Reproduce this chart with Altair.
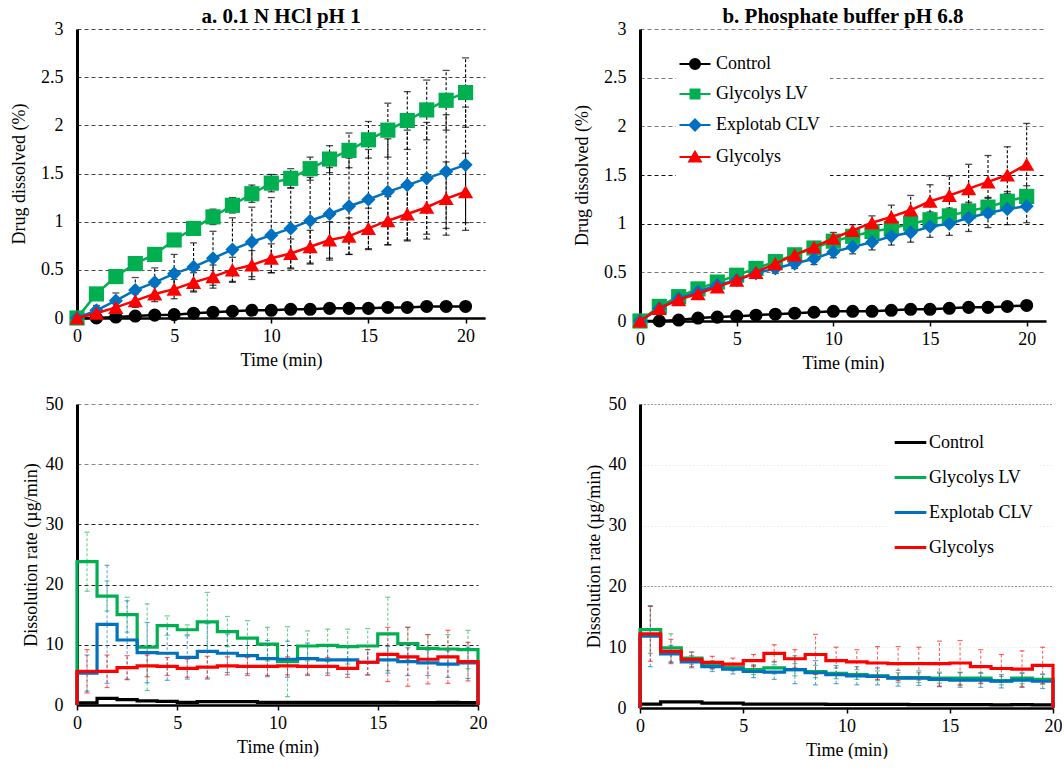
import altair as alt
import pandas as pd

FONT = "Liberation Serif"

series = ["Control", "Glycolys LV", "Explotab CLV", "Glycolys"]
colors = ["#000000", "#00B050", "#0070C0", "#FF0000"]
shapes = ["circle", "square", "diamond", "triangle-up"]
marker_sizes = [170, 230, 200, 230]

time_min = list(range(21))
interval_start = list(range(20))

# ---- a. 0.1 N HCl pH 1 : cumulative drug dissolved (%) ----
a_control = [0, 0, 0.01, 0.02, 0.03, 0.035, 0.05, 0.06, 0.07, 0.08, 0.08, 0.09, 0.09, 0.10, 0.10, 0.10, 0.11, 0.11, 0.12, 0.12, 0.12]
a_lv = [0, 0.25, 0.43, 0.565, 0.66, 0.81, 0.93, 1.05, 1.17, 1.29, 1.40, 1.45, 1.55, 1.65, 1.74, 1.85, 1.95, 2.05, 2.16, 2.26, 2.34]
a_clv = [0, 0.08, 0.18, 0.29, 0.37, 0.46, 0.53, 0.62, 0.71, 0.79, 0.86, 0.93, 1.01, 1.08, 1.16, 1.23, 1.31, 1.38, 1.45, 1.52, 1.59]
a_gly = [0, 0.05, 0.11, 0.18, 0.25, 0.30, 0.37, 0.43, 0.50, 0.55, 0.62, 0.67, 0.74, 0.81, 0.85, 0.93, 1.01, 1.08, 1.15, 1.24, 1.31]
a_lv_sd = [0, 0.02, 0.03, 0.05, 0.05, 0.06, 0.07, 0.08, 0.08, 0.09, 0.09, 0.10, 0.12, 0.14, 0.18, 0.19, 0.28, 0.30, 0.31, 0.31, 0.36]
a_clv_sd = [0, 0.05, 0.08, 0.13, 0.15, 0.20, 0.25, 0.28, 0.33, 0.36, 0.39, 0.42, 0.45, 0.48, 0.50, 0.52, 0.55, 0.57, 0.58, 0.59, 0.60]
a_gly_sd = [0, 0.03, 0.05, 0.07, 0.08, 0.10, 0.10, 0.12, 0.13, 0.15, 0.15, 0.15, 0.17, 0.19, 0.19, 0.21, 0.25, 0.28, 0.33, 0.38, 0.40]

# ---- b. Phosphate buffer pH 6.8 ----
b_control = [0, 0, 0.01, 0.03, 0.04, 0.05, 0.06, 0.07, 0.08, 0.09, 0.10, 0.10, 0.10, 0.11, 0.12, 0.12, 0.13, 0.14, 0.14, 0.15, 0.16]
b_lv = [0, 0.15, 0.25, 0.33, 0.40, 0.47, 0.54, 0.61, 0.68, 0.75, 0.82, 0.87, 0.92, 0.95, 1.00, 1.04, 1.08, 1.13, 1.17, 1.23, 1.28]
b_clv = [0, 0.13, 0.23, 0.30, 0.37, 0.42, 0.49, 0.54, 0.59, 0.64, 0.71, 0.76, 0.81, 0.87, 0.91, 0.97, 1.00, 1.06, 1.11, 1.15, 1.18]
b_gly = [0, 0.13, 0.22, 0.28, 0.35, 0.42, 0.50, 0.59, 0.68, 0.76, 0.85, 0.93, 1.01, 1.07, 1.14, 1.23, 1.29, 1.36, 1.43, 1.50, 1.61]
b_lv_sd = [0, 0.01, 0.02, 0.02, 0.03, 0.03, 0.04, 0.04, 0.05, 0.05, 0.05, 0.06, 0.06, 0.07, 0.07, 0.08, 0.08, 0.09, 0.10, 0.10, 0.11]
b_clv_sd = [0, 0.01, 0.02, 0.02, 0.03, 0.03, 0.04, 0.05, 0.05, 0.06, 0.06, 0.07, 0.08, 0.09, 0.10, 0.11, 0.12, 0.14, 0.15, 0.16, 0.17]
b_gly_sd = [0, 0.01, 0.02, 0.03, 0.03, 0.04, 0.04, 0.05, 0.05, 0.05, 0.06, 0.06, 0.07, 0.12, 0.15, 0.17, 0.20, 0.25, 0.27, 0.29, 0.42]

# ---- c. dissolution rate (ug/min), 0.1 N HCl, one value per 1-min interval ----
c_control = [0.35, 1.1, 0.9, 0.7, 0.6, 0.45, 0.55, 0.55, 0.55, 0.45, 0.45, 0.45, 0.45, 0.45, 0.45, 0.45, 0.4, 0.4, 0.45, 0.4]
c_lv = [23.8, 18.1, 15.0, 9.6, 13.2, 12.5, 13.8, 12.2, 11.1, 10.1, 7.2, 9.8, 9.9, 9.7, 9.8, 11.8, 10.2, 9.4, 9.3, 9.2]
c_clv = [5.3, 13.4, 10.8, 8.7, 8.6, 7.9, 8.9, 8.6, 8.2, 7.7, 7.6, 7.7, 7.5, 7.5, 7.1, 7.5, 7.2, 7.0, 6.8, 7.0]
c_gly = [5.6, 5.6, 6.2, 6.5, 6.4, 6.1, 6.3, 6.5, 6.4, 6.4, 6.5, 6.4, 6.4, 6.1, 7.1, 8.4, 8.0, 7.6, 8.0, 7.2]
c_lv_sd = [4.9, 2.5, 2.9, 7.2, 1.6, 0.8, 4.9, 2.5, 2.9, 2.8, 5.8, 2.5, 2.7, 2.9, 2.9, 6.1, 2.7, 2.3, 2.4, 3.2]
c_clv_sd = [3.0, 9.8, 6.5, 5.0, 4.5, 3.6, 4.6, 3.2, 3.0, 3.0, 3.0, 2.6, 2.2, 2.4, 2.1, 2.2, 2.3, 2.1, 2.2, 2.6]
c_gly_sd = [3.6, 2.7, 2.0, 1.8, 1.5, 1.5, 1.8, 1.5, 1.5, 1.5, 1.5, 1.5, 1.5, 1.5, 2.1, 4.5, 4.9, 4.1, 4.4, 3.2]

# ---- d. dissolution rate (ug/min), phosphate buffer ----
d_control = [0.65, 1.0, 1.0, 0.8, 0.8, 0.65, 0.65, 0.65, 0.65, 0.6, 0.6, 0.6, 0.6, 0.55, 0.55, 0.55, 0.55, 0.5, 0.55, 0.5]
d_lv = [12.9, 9.9, 8.2, 7.1, 6.7, 6.3, 6.6, 6.3, 6.0, 5.7, 5.5, 5.3, 5.0, 5.0, 4.9, 4.9, 4.9, 4.5, 4.9, 4.7]
d_clv = [11.8, 8.9, 7.6, 6.8, 6.4, 6.0, 5.9, 6.3, 5.8, 5.5, 5.3, 5.2, 4.9, 4.9, 4.7, 4.6, 4.6, 4.4, 4.6, 4.4]
d_gly = [12.2, 9.3, 8.0, 7.5, 7.2, 7.8, 9.0, 8.1, 8.8, 7.8, 7.6, 7.4, 7.3, 7.3, 7.3, 7.4, 6.8, 6.5, 6.4, 7.0]
d_lv_sd = [3.9, 2.3, 1.0, 0.7, 0.6, 0.8, 1.0, 1.0, 1.0, 0.9, 0.8, 0.8, 0.8, 0.8, 0.8, 1.0, 0.8, 0.7, 0.9, 0.8]
d_clv_sd = [5.0, 1.4, 1.0, 0.8, 0.8, 1.0, 1.2, 2.3, 2.0, 1.5, 1.5, 1.4, 1.3, 1.2, 1.2, 1.2, 1.2, 1.1, 1.1, 1.2]
d_gly_sd = [4.5, 2.0, 1.2, 1.0, 1.0, 1.0, 1.4, 1.5, 3.3, 2.2, 2.0, 2.7, 2.8, 2.7, 3.7, 3.7, 2.8, 2.3, 3.0, 3.0]

legend_paths = [
    "M-3.1,0H3.1M-1,0A1,1 0 1,1 1,0A1,1 0 1,1 -1,0Z",
    "M-3.1,0H3.1M-0.9,-0.9H0.9V0.9H-0.9Z",
    "M-3.1,0H3.1M0,-1.1L1.1,0L0,1.1L-1.1,0Z",
    "M-3.1,0H3.1M0,-1.05L1.15,0.9H-1.15Z",
]


def axis_x(tick_len):
    return alt.Axis(values=[0, 5, 10, 15, 20], title="Time (min)", grid=False,
                    domainColor="black", domainWidth=2.5, ticks=True, tickSize=tick_len,
                    tickColor="black", tickWidth=1.5, labelFont=FONT, labelFontSize=18,
                    labelColor="black", labelPadding=4, titleFont=FONT, titleFontSize=18,
                    titleFontWeight="normal", titleColor="black", titlePadding=6,
                    labelFlush=False)


def axis_y(values, title, fmt, grid_color, grid_dash, title_pad):
    return alt.Axis(values=values, title=title, format=fmt, grid=True, gridColor=grid_color,
                    gridDash=grid_dash, gridWidth=1.2, domainColor="black", domainWidth=3,
                    ticks=False, labelFont=FONT, labelFontSize=18, labelColor="black",
                    labelPadding=14, titleFont=FONT, titleFontSize=18, titleFontWeight="normal",
                    titleColor="black", titlePadding=title_pad)


def top_panel(title, values, sds, grid_color, legend, width, height):
    rows, err = [], []
    for s, v, sd in zip(series, values, sds):
        for t, y in zip(time_min, v):
            rows.append({"t": t, "v": y, "series": s})
        if sd is not None:
            for t, y, e in zip(time_min, v, sd):
                if e > 0:
                    err.append({"t": t, "lo": y - e, "hi": y + e, "series": s})
    df = pd.DataFrame(rows)
    de = pd.DataFrame(err)
    dcap = pd.concat([de[["t", "lo"]].rename(columns={"lo": "c"}),
                      de[["t", "hi"]].rename(columns={"hi": "c"})])
    xs = alt.Scale(domain=[0, 21], nice=False, zero=False)
    ys = alt.Scale(domain=[0, 3], nice=False)
    ax = axis_x(5)
    ay = axis_y([0, 0.5, 1, 1.5, 2, 2.5, 3], "Drug dissolved (%)", ".1~f", grid_color, [4, 3], 12)
    X = lambda f: alt.X(f, scale=xs, axis=ax)
    Y = lambda f: alt.Y(f, scale=ys, axis=ay)

    layers = [
        alt.Chart(de).mark_rule(color="black", strokeWidth=1.1, strokeDash=[3, 2]).encode(
            x=X("t:Q"), y=Y("lo:Q"), y2="hi:Q"),
        alt.Chart(dcap).mark_tick(orient="horizontal", color="black", size=7, thickness=1.3).encode(
            x=X("t:Q"), y=Y("c:Q")),
    ]
    for s, c, sh, sz in zip(series, colors, shapes, marker_sizes):
        dd = df[df.series == s]
        layers.append(alt.Chart(dd).mark_line(color=c, strokeWidth=2.5).encode(x=X("t:Q"), y=Y("v:Q")))
        layers.append(alt.Chart(dd).mark_point(shape=sh, filled=True, size=sz, color=c, opacity=1).encode(
            x=X("t:Q"), y=Y("v:Q")))
    if legend:
        lg = alt.Legend(title=None, orient="none", legendX=36, legendY=16, padding=10,
                        fillColor="white", symbolSize=100, symbolStrokeWidth=2, labelOffset=12,
                        labelFont=FONT, labelFontSize=18, labelColor="black", rowPadding=12,
                        symbolOpacity=1)
        layers.append(
            alt.Chart(df).transform_filter("false").mark_point(filled=True, opacity=1).encode(
                x=X("t:Q"), y=Y("v:Q"),
                fill=alt.Fill("series:N", scale=alt.Scale(domain=series, range=colors), legend=lg),
                stroke=alt.Stroke("series:N", scale=alt.Scale(domain=series, range=colors), legend=lg),
                shape=alt.Shape("series:N", scale=alt.Scale(domain=series, range=legend_paths), legend=lg),
            ))
    return alt.layer(*layers).properties(
        width=width, height=height,
        title=alt.Title(title, font=FONT, fontSize=21, fontWeight="bold", color="black", offset=-7))


def bottom_panel(values, sds, grid_color, grid_dash, legend, width, height, y_title_pad):
    rows, err = [], []
    for s, v, sd in zip(series, values, sds):
        rows.append({"t": 0, "v": 0, "series": s, "o": 0})
        for i, (t, y) in enumerate(zip(interval_start, v)):
            rows.append({"t": t, "v": y, "series": s, "o": i + 1})
        rows.append({"t": 20, "v": v[-1], "series": s, "o": 21})
        rows.append({"t": 20, "v": 0, "series": s, "o": 22})
        if sd is not None:
            for t, y, e in zip(interval_start, v, sd):
                err.append({"t": t + 0.5, "lo": max(y - e, 0), "hi": y + e, "series": s})
    df = pd.DataFrame(rows)
    de = pd.DataFrame(err)
    xs = alt.Scale(domain=[0, 20], nice=False)
    ys = alt.Scale(domain=[0, 50], nice=False)
    ax = axis_x(5)
    ay = axis_y([0, 10, 20, 30, 40, 50], "Dissolution rate (\u00b5g/min)", "d", grid_color, grid_dash,
                y_title_pad)
    X = lambda f: alt.X(f, scale=xs, axis=ax)
    Y = lambda f: alt.Y(f, scale=ys, axis=ay)
    layers = []
    for s, c in zip(series[1:], colors[1:]):
        ds = de[de.series == s]
        dcap = pd.concat([ds[["t", "lo"]].rename(columns={"lo": "c"}),
                          ds[["t", "hi"]].rename(columns={"hi": "c"})])
        layers.append(alt.Chart(ds).mark_rule(color=c, strokeWidth=1.1, strokeDash=[3, 2], opacity=0.6).encode(
            x=X("t:Q"), y=Y("lo:Q"), y2="hi:Q"))
        layers.append(alt.Chart(dcap).mark_tick(orient="horizontal", color=c, size=5, thickness=1.2,
                                                opacity=0.6).encode(x=X("t:Q"), y=Y("c:Q")))
    for s, c in zip(series, colors):
        dd = df[df.series == s]
        layers.append(alt.Chart(dd).mark_line(color=c, strokeWidth=3.2, interpolate="step-after").encode(
            x=X("t:Q"), y=Y("v:Q"), order="o:Q"))
    if legend:
        lg = alt.Legend(title=None, orient="none", legendX=247, legendY=15, padding=6,
                        fillColor="white", symbolSize=1000, symbolStrokeWidth=3.2,
                        labelOffset=1, labelFont=FONT, labelFontSize=18, labelColor="black",
                        rowPadding=8)
        layers.append(
            alt.Chart(df).transform_filter("false").mark_line(strokeWidth=3.2).encode(
                x=X("t:Q"), y=Y("v:Q"),
                color=alt.Color("series:N", scale=alt.Scale(domain=series, range=colors), legend=lg)))
    return alt.layer(*layers).properties(width=width, height=height)


gc_a = "#444444"
gc_b = {"condition": {"test": "datum.value === 1 || datum.value === 1.5", "value": "#111111"},
        "value": "#777777"}
gc_c = {"condition": {"test": "datum.value >= 40", "value": "#888888"}, "value": "#222222"}
gc_d = {"condition": {"test": "datum.value === 20 || datum.value === 50", "value": "#999999"},
        "value": "#eeeeee"}

pa = top_panel("a. 0.1 N HCl pH 1", [a_control, a_lv, a_clv, a_gly],
               [None, a_lv_sd, a_clv_sd, a_gly_sd], gc_a, False, 408, 289)
pb = top_panel("b. Phosphate buffer pH 6.8", [b_control, b_lv, b_clv, b_gly],
               [None, b_lv_sd, b_clv_sd, b_gly_sd], gc_b, True, 406, 292)
pc = bottom_panel([c_control, c_lv, c_clv, c_gly], [None, c_lv_sd, c_clv_sd, c_gly_sd],
                  gc_c, [4, 3], False, 401, 301, 5)
pd_ = bottom_panel([d_control, d_lv, d_clv, d_gly], [None, d_lv_sd, d_clv_sd, d_gly_sd],
                   gc_d, [2, 1.5], True, 413, 304, 5)

chart = alt.concat(pa, pb, pc, pd_, columns=2, spacing={"row": 23, "column": 86}).resolve_scale(
    color="independent", fill="independent", stroke="independent", shape="independent"
).resolve_legend(
    color="independent", fill="independent", stroke="independent", shape="independent"
).properties(
    padding={"left": 10, "top": 6, "right": 0, "bottom": 0},
    background="white",
).configure_view(stroke=None)

chart.save("out.html", embed_options={"renderer": "svg", "actions": False})
